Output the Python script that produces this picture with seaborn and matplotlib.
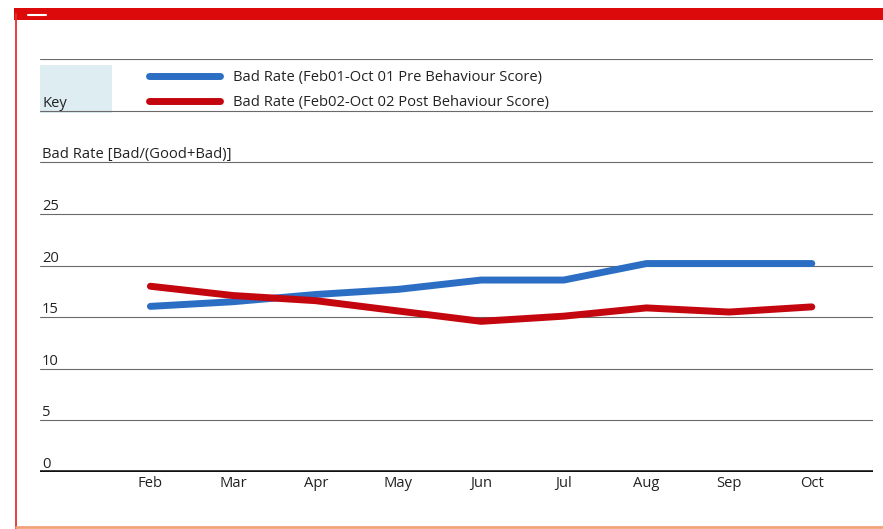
import matplotlib
matplotlib.use("Agg")
import matplotlib.pyplot as plt
import seaborn as sns
import pandas as pd
import matplotlib.transforms as mtrans
from matplotlib.patches import Rectangle
from matplotlib.lines import Line2D

# ---- data ----
months = ["Feb", "Mar", "Apr", "May", "Jun", "Jul", "Aug", "Sep", "Oct"]
pre_behaviour = [16.05, 16.5, 17.2, 17.7, 18.6, 18.6, 20.2, 20.2, 20.2]
post_behaviour = [18.0, 17.1, 16.6, 15.6, 14.6, 15.1, 15.9, 15.5, 16.0]
series_labels = ["Bad Rate (Feb01-Oct 01 Pre Behaviour Score)",
                 "Bad Rate (Feb02-Oct 02 Post Behaviour Score)"]
y_ticks = [0, 5, 10, 15, 20, 25]
extra_rules = [30, 35, 40]
y_title = "Bad Rate [Bad/(Good+Bad)]"
key_label = "Key"

BLUE = "#2c6ec4"
RED = "#c4070f"
GRID = "#6a6a6a"
TXT = "#222222"

df = pd.DataFrame({
    "month": months * 2,
    "value": pre_behaviour + post_behaviour,
    "series": [series_labels[0]] * len(months) + [series_labels[1]] * len(months),
})

sns.set_theme(style="white")
plt.rcParams["font.family"] = ["Open Sans", "DejaVu Sans"]
FS = 10.6

W, H = 883, 529
fig = plt.figure(figsize=(W / 100, H / 100), dpi=100)
fig.patch.set_facecolor("white")

def fx(px):
    return px / W

def fy(py):
    return 1 - py / H

# axes: y=0 at 472px, y=40 at ~59px ; x from 40 to 873px
y0_px, y40_px = 472, 59.2
ax = fig.add_axes([fx(40), fy(y0_px), fx(873) - fx(40), fy(y40_px) - fy(y0_px)])
ax.set_facecolor("none")

sns.lineplot(data=df, x="month", y="value", hue="series",
             palette=[BLUE, RED], linewidth=5, ax=ax, sort=False,
             legend=True)
for ln in ax.get_lines():
    ln.set_solid_capstyle("round")
    ln.set_solid_joinstyle("round")
    ln.set_zorder(3)

handles, labels = ax.get_legend_handles_labels()
if ax.get_legend() is not None:
    ax.get_legend().remove()

ax.set_xlim(-1.335, 8.74)
ax.set_ylim(0, 40)
for s in ax.spines.values():
    s.set_visible(False)
ax.set_xlabel("")
ax.set_ylabel("")
ax.set_yticks([])
ax.tick_params(axis="x", length=0, pad=3, labelsize=FS, labelcolor=TXT)

# rules
for v in y_ticks[1:] + extra_rules:
    ax.axhline(v, color=GRID, lw=0.8, zorder=1)
ax.axhline(0, color="#111111", lw=2.6, zorder=2)

# y labels above rules
tr = mtrans.blended_transform_factory(ax.transAxes, ax.transData)
off = mtrans.offset_copy(tr, fig=fig, x=2, y=4, units="dots")
for v in y_ticks:
    ax.text(0, v, str(v), transform=off, ha="left", va="baseline",
            fontsize=FS, color=TXT)
ax.text(0, 30, y_title, transform=off, ha="left", va="baseline",
        fontsize=FS, color=TXT)
ax.text(0, 35, key_label, transform=off, ha="left", va="baseline",
        fontsize=FS, color=TXT, zorder=4)

# key box
fig.add_artist(Rectangle((fx(40), fy(113)), fx(112) - fx(40), fy(65) - fy(113),
                         transform=fig.transFigure, facecolor="#ddedf1",
                         edgecolor="none", zorder=0))

# legend
leg = fig.legend(handles, labels, loc="center left",
                 bbox_to_anchor=(fx(149), fy(90)), frameon=False,
                 borderpad=0, borderaxespad=0, handlelength=4.8,
                 handletextpad=0.9, labelspacing=0.7, fontsize=FS)
for h in leg.get_lines():
    h.set_linewidth(5)
    h.set_solid_capstyle("round")
for t in leg.get_texts():
    t.set_color(TXT)

# page frame
fig.add_artist(Rectangle((fx(14), fy(20)), fx(883) - fx(14), fy(8) - fy(20),
                         transform=fig.transFigure, facecolor="#dc0a0a",
                         edgecolor="none", zorder=5))
fig.add_artist(Line2D([fx(28), fx(46)], [fy(15), fy(15)], transform=fig.transFigure,
                      color="white", lw=1.5, zorder=6))
fig.add_artist(Line2D([fx(16), fx(16)], [fy(14), fy(529)], transform=fig.transFigure,
                      color="#e23030", lw=1.3, zorder=5))
fig.add_artist(Line2D([fx(16), fx(883)], [fy(527), fy(527)], transform=fig.transFigure,
                      color="#f2a27a", lw=2, zorder=5))

fig.savefig("out.png", dpi=100)
